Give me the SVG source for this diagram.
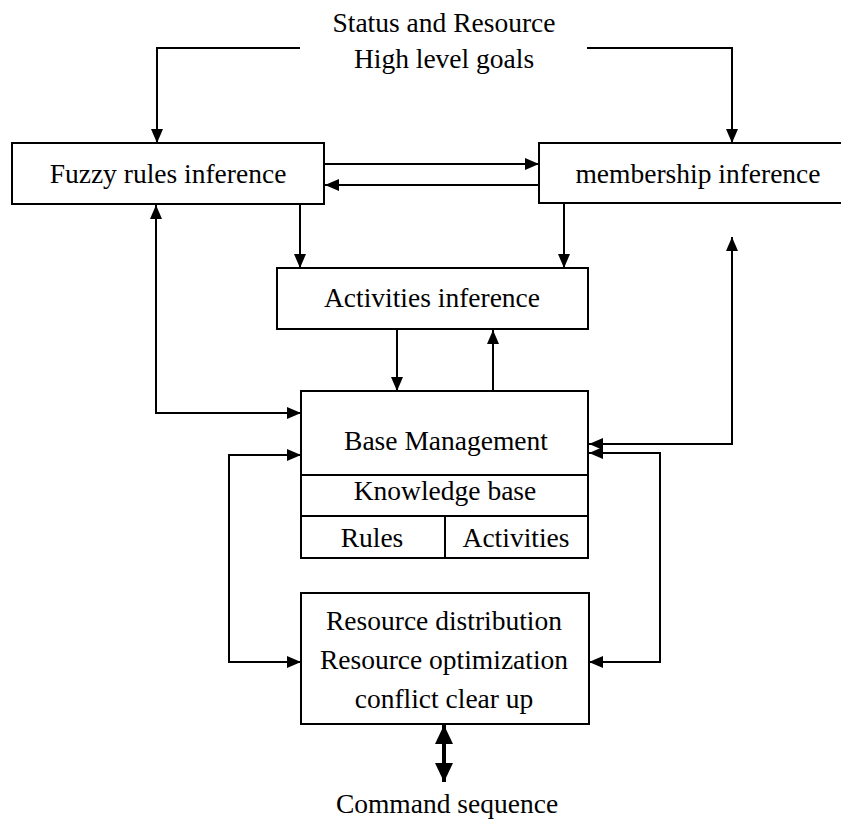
<svg xmlns="http://www.w3.org/2000/svg" width="841" height="820" viewBox="0 0 841 820">
<defs>
<style>
.box{fill:#fff;stroke:#000;stroke-width:2}
.ln{fill:none;stroke:#000;stroke-width:2}
.t{font-family:"Liberation Serif","Times New Roman",serif;font-size:27.5px;fill:#000;text-anchor:middle}
</style>
<marker id="ah" markerUnits="userSpaceOnUse" markerWidth="14" markerHeight="12" refX="14" refY="6" orient="auto-start-reverse">
<path d="M0,0 L14,6 L0,12 z" fill="#000"/>
</marker>
<marker id="ahb" markerUnits="userSpaceOnUse" markerWidth="19" markerHeight="18" refX="19" refY="9" orient="auto-start-reverse">
<path d="M0,0 L19,9 L0,18 z" fill="#000"/>
</marker>
</defs>
<rect width="841" height="820" fill="#fff"/>

<g id="inputs">
<text class="t" x="444" y="32">Status and Resource</text>
<text class="t" x="444" y="68">High level goals</text>
</g>

<g id="fuzzy">
<rect class="box" x="12" y="143" width="312" height="61"/>
<text class="t" x="168" y="183">Fuzzy rules inference</text>
</g>

<g id="membership">
<rect class="box" x="539" y="143" width="320" height="60"/>
<text class="t" x="698" y="183">membership inference</text>
</g>

<g id="activities">
<rect class="box" x="277" y="268" width="311" height="61"/>
<text class="t" x="432" y="307">Activities inference</text>
</g>

<g id="base">
<rect class="box" x="301" y="391" width="287" height="167"/>
<line class="ln" x1="301" y1="475" x2="588" y2="475"/>
<line class="ln" x1="301" y1="516" x2="588" y2="516"/>
<line class="ln" x1="445" y1="516" x2="445" y2="558"/>
<text class="t" x="446" y="450">Base Management</text>
<text class="t" x="445" y="500">Knowledge base</text>
<text class="t" x="372" y="547">Rules</text>
<text class="t" x="516" y="547">Activities</text>
</g>

<g id="resource">
<rect class="box" x="301" y="593" width="288" height="131"/>
<text class="t" x="444" y="630">Resource distribution</text>
<text class="t" x="444" y="669">Resource optimization</text>
<text class="t" x="444" y="708">conflict clear up</text>
</g>

<g id="output">
<text class="t" x="447" y="813">Command sequence</text>
</g>

<g id="connectors">
<polyline class="ln" points="300,48 157,48 157,143" marker-end="url(#ah)"/>
<polyline class="ln" points="587,48 732,48 732,143" marker-end="url(#ah)"/>
<line class="ln" x1="324" y1="164" x2="539" y2="164" marker-end="url(#ah)"/>
<line class="ln" x1="539" y1="185" x2="325" y2="185" marker-end="url(#ah)"/>
<line class="ln" x1="300" y1="204" x2="300" y2="268" marker-end="url(#ah)"/>
<line class="ln" x1="564" y1="203" x2="564" y2="268" marker-end="url(#ah)"/>
<line class="ln" x1="397" y1="329" x2="397" y2="391" marker-end="url(#ah)"/>
<line class="ln" x1="493" y1="391" x2="493" y2="330" marker-end="url(#ah)"/>
<polyline class="ln" points="156,205 156,413 301,413" marker-start="url(#ah)" marker-end="url(#ah)"/>
<polyline class="ln" points="301,455 229,455 229,662 301,662" marker-start="url(#ah)" marker-end="url(#ah)"/>
<polyline class="ln" points="732,237 732,444 589,444" marker-start="url(#ah)" marker-end="url(#ah)"/>
<polyline class="ln" points="589,453 660,453 660,662 589,662" marker-start="url(#ah)" marker-end="url(#ah)"/>
<line x1="444" y1="725" x2="444" y2="782" stroke="#000" stroke-width="4" marker-start="url(#ahb)" marker-end="url(#ahb)"/>
</g>
</svg>
